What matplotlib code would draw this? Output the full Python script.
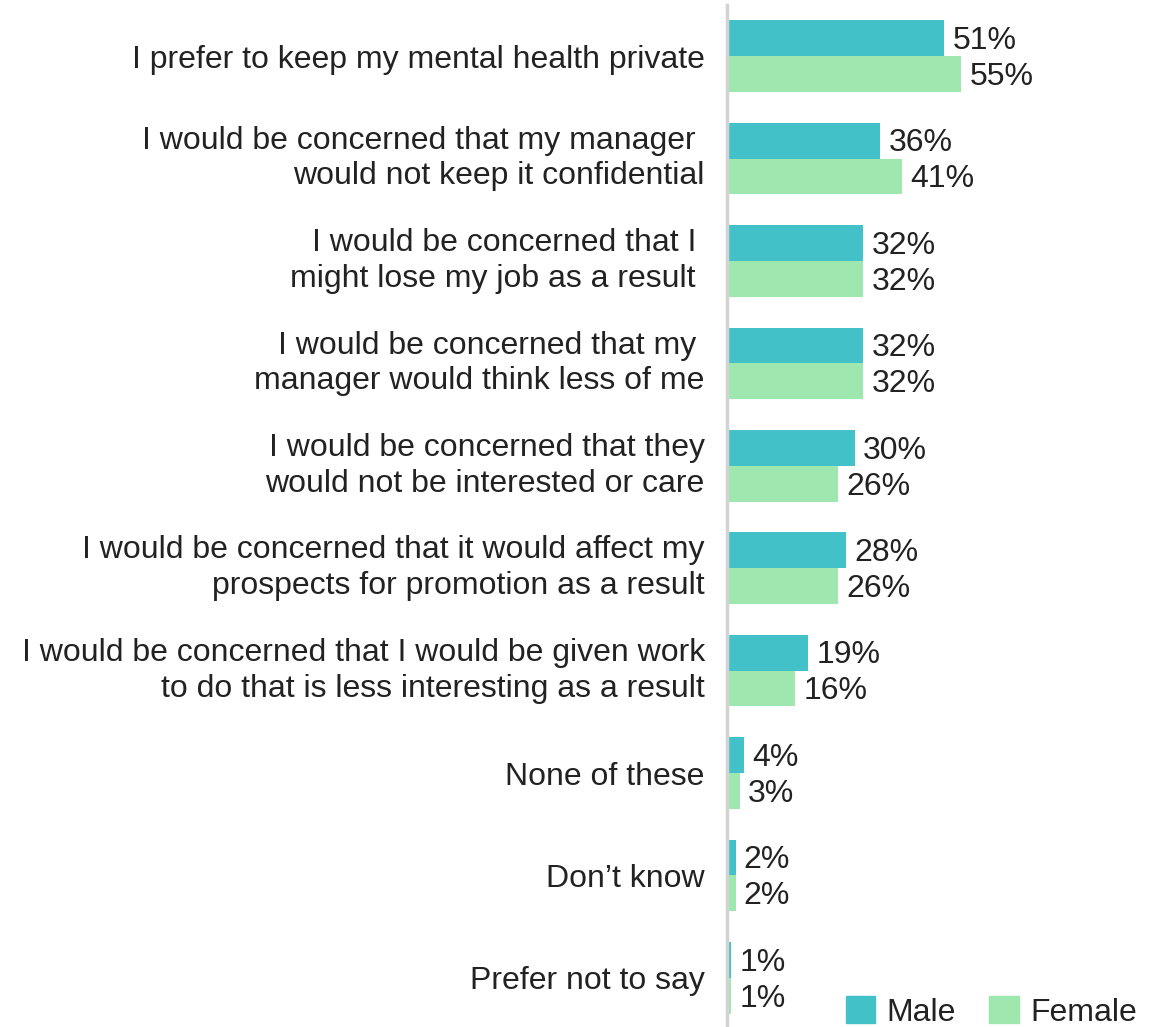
import numpy as np
import matplotlib.pyplot as plt
from matplotlib.patches import Patch

plt.rcParams['font.family'] = ['Liberation Sans', 'DejaVu Sans']

categories = [
    "I prefer to keep my mental health private",
    "I would be concerned that my manager \nwould not keep it confidential",
    "I would be concerned that I \nmight lose my job as a result ",
    "I would be concerned that my \nmanager would think less of me",
    "I would be concerned that they\nwould not be interested or care",
    "I would be concerned that it would affect my\nprospects for promotion as a result",
    "I would be concerned that I would be given work\nto do that is less interesting as a result",
    "None of these",
    "Don\u2019t know",
    "Prefer not to say",
]
male = [51, 36, 32, 32, 30, 28, 19, 4, 2, 1]
female = [55, 41, 32, 32, 26, 26, 16, 3, 2, 1]

male_color = "#42C1C8"
female_color = "#9EE8B0"
text_color = "#222222"
fs = 23

fig = plt.figure(figsize=(11.66, 10.27), dpi=100)
ax = fig.add_axes([727 / 1166, 0, 1 - 727 / 1166, 1022 / 1027])

y = np.arange(len(categories))
h = 0.35
bm = ax.barh(y - h / 2, male, height=h, color=male_color, align='center')
bf = ax.barh(y + h / 2, female, height=h, color=female_color, align='center')

for bars, vals in ((bm, male), (bf, female)):
    for bar, v in zip(bars, vals):
        ax.annotate(f"{v}%", (bar.get_width(), bar.get_y() + bar.get_height() / 2),
                    xytext=(6, -2), textcoords='offset points',
                    ha='left', va='center', fontsize=fs, color=text_color)

ax.set_xlim(0, 103)
ax.set_ylim(9.48, -0.5)
ax.set_yticks(y)
ax.set_yticklabels(categories, fontsize=fs, color=text_color, linespacing=1.25)
# two-line labels sit a bit high otherwise
for lbl in ax.get_yticklabels():
    if "\n" in lbl.get_text():
        lbl.set_va('center')
ax.tick_params(axis='y', length=0, pad=16)
ax.set_xticks([])

for s in ('top', 'right', 'bottom'):
    ax.spines[s].set_visible(False)
ax.spines['left'].set_color('#D3D3D3')
ax.spines['left'].set_linewidth(2.5)

handles = [Patch(color=male_color, label='Male'), Patch(color=female_color, label='Female')]
fig.legend(handles=handles, loc='lower right', bbox_to_anchor=(1140 / 1166, -0.004), ncol=2,
           frameon=False, fontsize=fs, handlelength=0.92, handleheight=0.92,
           columnspacing=1.05, handletextpad=0.35, borderpad=0.1, borderaxespad=0,
           labelcolor=text_color)

fig.savefig("out.png", dpi=100)
